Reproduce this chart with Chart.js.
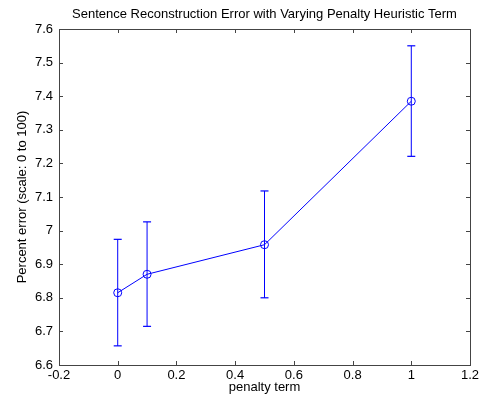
<!DOCTYPE html>
<html lang="en">
<head>
  <meta charset="UTF-8" />
  <title>Sentence Reconstruction Error</title>
  <script src="https://cdn.jsdelivr.net/npm/chart.js"></script>
  <style>
    body { margin: 0; background: #fff; }
    #chart { display: block; }
  </style>
</head>
<body>
  <canvas id="chart" width="483" height="405"></canvas>

  <script>
    // values
    const penalty  = [0, 0.1, 0.5, 1];
    const errMean  = [6.815, 6.870, 6.958, 7.385];
    const errLow   = [6.657, 6.715, 6.800, 7.221];
    const errHigh  = [6.974, 7.026, 7.118, 7.550];

    const xTicks = [-0.2, 0, 0.2, 0.4, 0.6, 0.8, 1, 1.2];
    const yTicks = [6.6, 6.7, 6.8, 6.9, 7, 7.1, 7.2, 7.3, 7.4, 7.5, 7.6];

    const blue = '#0000ff';
    const font = { family: 'Arial, "Liberation Sans", sans-serif', size: 13 };

    // one little dataset per error bar, caps drawn as 'line' points
    const errorBars = penalty.map((x, i) => ({
      data: [{ x: x, y: errLow[i] }, { x: x, y: errHigh[i] }],
      showLine: true,
      borderColor: blue,
      borderWidth: 1,
      pointStyle: 'line',
      pointRadius: 4,
      pointBorderColor: blue,
      pointBorderWidth: 1.2
    }));

    // matlab style box with inward ticks
    const boxTicks = {
      id: 'boxTicks',
      afterDatasetsDraw(chart) {
        const { ctx, chartArea: a, scales } = chart;
        const len = 4;
        ctx.save();
        ctx.strokeStyle = '#444';
        ctx.lineWidth = 1;
        ctx.beginPath();
        xTicks.forEach(v => {
          const px = Math.round(scales.x.getPixelForValue(v)) + 0.5;
          ctx.moveTo(px, a.bottom); ctx.lineTo(px, a.bottom - len);
          ctx.moveTo(px, a.top); ctx.lineTo(px, a.top + len);
        });
        yTicks.forEach(v => {
          const py = Math.round(scales.y.getPixelForValue(v)) + 0.5;
          ctx.moveTo(a.left, py); ctx.lineTo(a.left + len, py);
          ctx.moveTo(a.right, py); ctx.lineTo(a.right - len, py);
        });
        ctx.stroke();
        ctx.strokeRect(Math.round(a.left) + 0.5, Math.round(a.top) + 0.5,
                       Math.round(a.right - a.left), Math.round(a.bottom - a.top));
        ctx.restore();
      }
    };

    const fmt = v => String(Math.round(v * 10) / 10);

    new Chart(document.getElementById('chart'), {
      type: 'scatter',
      data: {
        datasets: [
          {
            data: penalty.map((x, i) => ({ x: x, y: errMean[i] })),
            showLine: true,
            borderColor: blue,
            borderWidth: 1,
            pointStyle: 'circle',
            pointRadius: 4,
            pointBackgroundColor: 'rgba(0,0,0,0)',
            pointBorderColor: blue,
            pointBorderWidth: 1
          },
          ...errorBars
        ]
      },
      options: {
        responsive: false,
        animation: false,
        layout: { padding: { right: 13 } },
        plugins: {
          legend: { display: false },
          tooltip: { enabled: false },
          title: {
            display: true,
            fullSize: false,
            text: 'Sentence Reconstruction Error with Varying Penalty Heuristic Term',
            color: '#000',
            font: { ...font, weight: 'normal' },
            padding: { top: 7, bottom: 6.4 }
          }
        },
        scales: {
          x: {
            type: 'linear',
            min: -0.2,
            max: 1.2,
            afterFit: s => { s.height = 40; },
            afterBuildTicks: s => { s.ticks = xTicks.map(v => ({ value: v })); },
            grid: { display: false, drawTicks: false },
            border: { display: false },
            ticks: { color: '#000', font: font, padding: 3, callback: fmt, maxRotation: 0 },
            title: {
              display: true,
              text: 'penalty term',
              color: '#000',
              font: font,
              padding: { top: 0, bottom: 10 }
            }
          },
          y: {
            type: 'linear',
            min: 6.6,
            max: 7.6,
            afterFit: s => { s.width = 59; },
            afterBuildTicks: s => { s.ticks = yTicks.map(v => ({ value: v })); },
            grid: { display: false, drawTicks: false },
            border: { display: false },
            ticks: { color: '#000', font: font, padding: 6, callback: fmt },
            title: {
              display: true,
              text: 'Percent error (scale: 0 to 100)',
              color: '#000',
              font: font,
              padding: { top: 15, bottom: 0 }
            }
          }
        }
      },
      plugins: [boxTicks]
    });
  </script>
</body>
</html>
